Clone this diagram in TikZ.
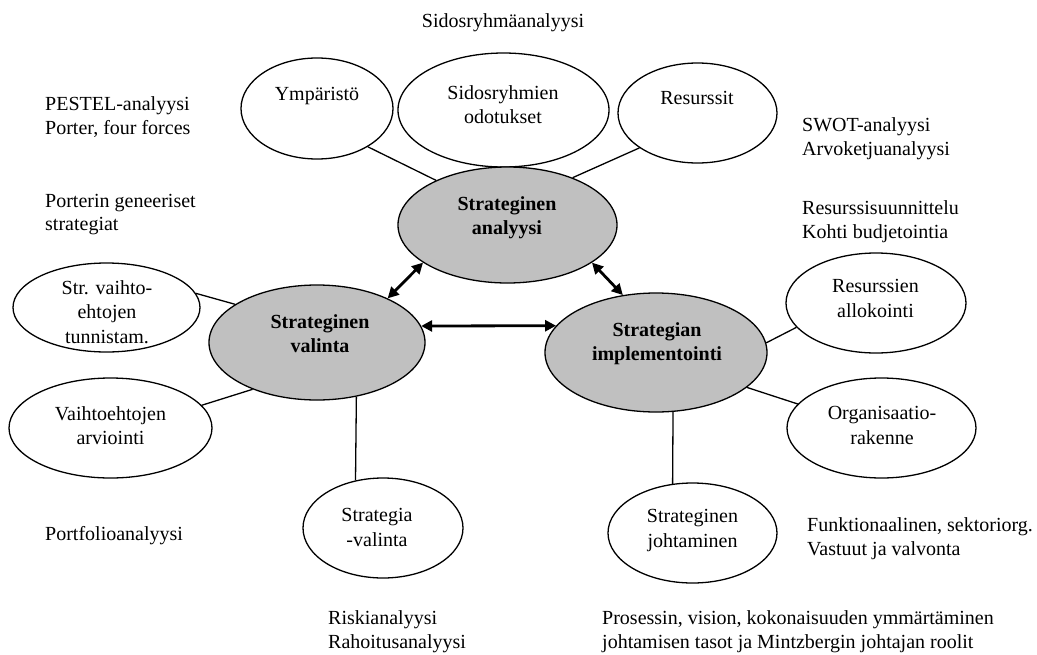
\documentclass[tikz,border=0pt]{standalone}
\usepackage{fontspec}
\setmainfont{Liberation Serif}
\usetikzlibrary{shapes.geometric,arrows.meta}
\definecolor{hubgray}{HTML}{C0C0C0}
\begin{document}
\begin{tikzpicture}[x=1pt,y=-1pt,
  bub/.style={ellipse, draw, line width=1.3pt, fill=white, inner sep=0pt},
  hub/.style={bub, fill=hubgray},
  lbl/.style={font=\fontsize{20}{24.5}\selectfont, align=center, inner sep=0pt},
  hublbl/.style={lbl, font=\fontsize{20}{24.5}\selectfont\bfseries},
  note/.style={font=\fontsize{20}{23.5}\selectfont, align=left, anchor=west, inner sep=0pt},
  link/.style={line width=1.3pt},
  twoway/.style={line width=2.8pt, {Triangle[length=11pt,width=11pt]}-{Triangle[length=11pt,width=11pt]}}]

\fill[white] (0,0) rectangle (1037,654);
\useasboundingbox (0,0) rectangle (1037,654);

% outer ellipses
\node[bub, minimum width=152pt, minimum height=101pt] (ymp) at (317,108.5) {};
\node[bub, minimum width=211pt, minimum height=114pt] (sid) at (503.5,110) {};
\node[bub, minimum width=159pt, minimum height=100pt] (res) at (697.5,113) {};
\node[bub, minimum width=187pt, minimum height=89pt]  (vt)  at (106.5,307.5) {};
\node[bub, minimum width=203pt, minimum height=100pt] (va)  at (110.5,428) {};
\node[bub, minimum width=160pt, minimum height=100pt] (sv)  at (383,528) {};
\node[bub, minimum width=180pt, minimum height=100pt] (ra)  at (876,303) {};
\node[bub, minimum width=189pt, minimum height=100pt] (org) at (881.5,428) {};
\node[bub, minimum width=169pt, minimum height=100pt] (joh) at (692.5,533) {};

% central ellipses
\node[hub, minimum width=219pt, minimum height=116pt] (ana) at (507.5,225) {};
\node[hub, minimum width=216pt, minimum height=115pt] (val) at (317,342.5) {};
\node[hub, minimum width=222pt, minimum height=119pt] (imp) at (656,352.5) {};

% ellipse texts
\node[lbl] (tymp) at (317,96) {Ympäristö};
\node[lbl] (tsid) at (503,104.5) {Sidosryhmien\\odotukset};
\node[lbl] (tres) at (697,98) {Resurssit};
\node[lbl] (tvt)  at (107,312) {Str. vaihto-\\ehtojen\\tunnistam.};
\node[lbl] (tva)  at (110.5,425.5) {Vaihtoehtojen\\arviointi};
\node[lbl] (tsv)  at (377,527.5) {Strategia\\-valinta};
\node[lbl] (tra)  at (875.5,298.5) {Resurssien\\allokointi};
\node[lbl] (torg) at (882,425.5) {Organisaatio-\\rakenne};
\node[lbl] (tjoh) at (692.5,530.5) {Strateginen\\johtaminen};
\node[hublbl] (tana) at (507,217.5) {Strateginen\\analyysi};
\node[hublbl] (tval) at (320,333.5) {Strateginen\\valinta};
\node[hublbl] (timp) at (657,343.5) {Strategian\\implementointi};

% thin links
\draw[link] (ymp.-37.6) -- (ana.148.8);
\draw[link] (res.-149.4) -- (ana.36.2);
\draw[link] (vt.9) -- (val.155.6);
\draw[link] (va.14.1) -- (val.-144);
\draw[link] (val.-54.7) -- (sv.120);
\draw[link] (imp.5.5) -- (ra.-163.8);
\draw[link] (imp.-21.9) -- (org.164.8);
\draw[link] (imp.-74.4) -- (joh.112.7);

% two-way arrows between the central ellipses
\draw[twoway] (ana.-156) -- (val.32.7);
\draw[twoway] (ana.-24.1) -- (imp.120.9);
\draw[twoway] (val.9.1) -- (imp.165);

% side notes
\node[lbl] (n0) at (503,23) {Sidosryhmäanalyysi};
\node[note] (n1) at (45,117) {PESTEL-analyysi\\Porter, four forces};
\node[note] (n2) at (45,214.5) {Porterin geneeriset\\strategiat};
\node[note] (n3) at (802,138.5) {SWOT-analyysi\\Arvoketjuanalyysi};
\node[note] (n4) at (802,221.5) {Resurssisuunnittelu\\Kohti budjetointia};
\node[note] (n5) at (45,536) {Portfolioanalyysi};
\node[note] (n6) at (807,538.5) {Funktionaalinen, sektoriorg.\\Vastuut ja valvonta};
\node[note] (n7) at (328,631.5) {Riskianalyysi\\Rahoitusanalyysi};
\node[note] (n8) at (602,631.5) {Prosessin, vision, kokonaisuuden ymmärtäminen\\johtamisen tasot ja Mintzbergin johtajan roolit};
\end{tikzpicture}
\end{document}
